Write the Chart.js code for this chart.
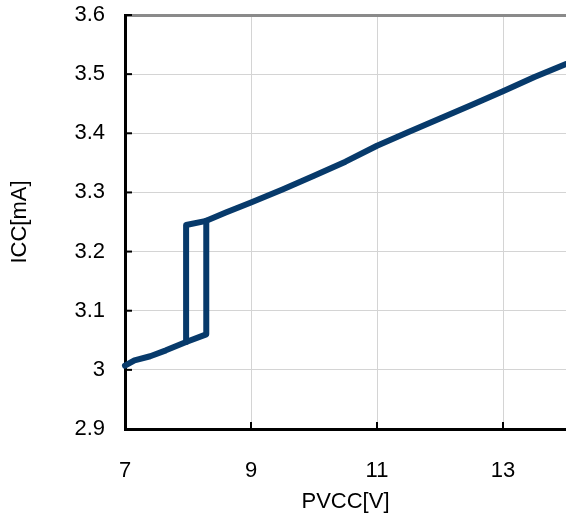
<!DOCTYPE html>
<html lang="en">
<head>
  <meta charset="UTF-8" />
  <title>ICC vs PVCC</title>
  <style>
    body { margin: 0; background: #fff; }
    #wrap { width: 566px; height: 519px; position: relative; }
  </style>
</head>
<body>
  <div id="wrap"><canvas id="chartCanvas"></canvas></div>
  <script src="https://cdn.jsdelivr.net/npm/chart.js"></script>
  <script>
    // lower branch (before the jump) and upper branch (after the jump)
    const lowerV = [7.0, 7.15, 7.4, 7.65, 7.97, 8.29];
    const lowerI = [3.007, 3.016, 3.023, 3.033, 3.047, 3.060];
    const upperV = [7.97, 8.29, 8.6, 9.0, 9.5, 10.0, 10.5, 11.0, 11.5, 12.0, 12.5, 13.0, 13.5, 14.0];
    const upperI = [3.245, 3.252, 3.266, 3.283, 3.305, 3.328, 3.352, 3.379, 3.402, 3.425, 3.448, 3.471, 3.495, 3.517];
    const xTicks = [7, 9, 11, 13];
    const yTicks = [2.9, 3.0, 3.1, 3.2, 3.3, 3.4, 3.5, 3.6];

    const lineColor = '#073a6b';
    const font = { family: "'Liberation Sans Narrow', 'Liberation Sans', sans-serif", size: 22 };

    // sweep up: lower branch, then jump at the right edge of the loop
    const upPts = lowerV.map((v, i) => ({ x: v, y: lowerI[i] }));
    upPts.push({ x: upperV[1], y: upperI[1] });
    // sweep down: drop at the left edge of the loop, then the upper branch
    const downPts = [{ x: lowerV[4], y: lowerI[4] }].concat(upperV.map((v, i) => ({ x: v, y: upperI[i] })));

    // short tick marks drawn on the inside of the axes
    const innerTicks = {
      id: 'innerTicks',
      afterDatasetsDraw(chart) {
        const ctx = chart.ctx;
        const a = chart.chartArea;
        ctx.save();
        ctx.strokeStyle = '#000';
        ctx.lineWidth = 2;
        chart.scales.y.ticks.forEach(t => {
          const py = chart.scales.y.getPixelForValue(t.value);
          ctx.beginPath(); ctx.moveTo(a.left, py); ctx.lineTo(a.left + 7, py); ctx.stroke();
        });
        chart.scales.x.ticks.forEach(t => {
          if (t.value === 7) return;
          const px = chart.scales.x.getPixelForValue(t.value);
          ctx.beginPath(); ctx.moveTo(px, a.bottom); ctx.lineTo(px, a.bottom - 7); ctx.stroke();
        });
        ctx.restore();
      }
    };

    new Chart(document.getElementById('chartCanvas'), {
      type: 'scatter',
      data: {
        datasets: [
          { data: upPts, showLine: true, borderColor: lineColor, borderWidth: 6, pointRadius: 0, borderJoinStyle: 'round', borderCapStyle: 'round', clip: false },
          { data: downPts, showLine: true, borderColor: lineColor, borderWidth: 6, pointRadius: 0, borderJoinStyle: 'round', borderCapStyle: 'round', clip: false }
        ]
      },
      options: {
        responsive: true,
        maintainAspectRatio: false,
        animation: false,
        layout: { padding: { top: 15, right: 0, left: 0, bottom: 0 } },
        plugins: { legend: { display: false }, tooltip: { enabled: false } },
        scales: {
          x: {
            type: 'linear', min: 7, max: 14,
            afterBuildTicks: s => { s.ticks = xTicks.map(v => ({ value: v })); },
            afterFit: s => { s.height = 90; s.paddingLeft = 0; s.paddingRight = 0; },
            grid: { color: '#d4d4d4', lineWidth: 1, drawTicks: false },
            border: { color: '#000', width: 3 },
            ticks: { color: '#000', font: font, padding: 29, maxRotation: 0 },
            title: { display: true, text: 'PVCC[V]', color: '#000', font: font, padding: { top: 3 } }
          },
          y: {
            type: 'linear', min: 2.9, max: 3.6,
            afterBuildTicks: s => { s.ticks = yTicks.map(v => ({ value: v })); },
            afterFit: s => { s.width = 125; s.paddingTop = 0; s.paddingBottom = 0; },
            grid: {
              drawTicks: false,
              color: c => c.tick.value >= 3.6 ? '#8a8a8a' : (c.tick.value <= 2.9 ? 'rgba(0,0,0,0)' : '#d4d4d4'),
              lineWidth: c => c.tick.value >= 3.6 ? 3 : 1
            },
            border: { color: '#000', width: 3 },
            ticks: { color: '#000', font: font, padding: 20, callback: v => (Math.round(v * 10) / 10).toString() },
            title: { display: true, text: 'ICC[mA]', color: '#000', font: font, padding: { top: 7, bottom: 0 } }
          }
        }
      },
      plugins: [innerTicks]
    });
  </script>
</body>
</html>
